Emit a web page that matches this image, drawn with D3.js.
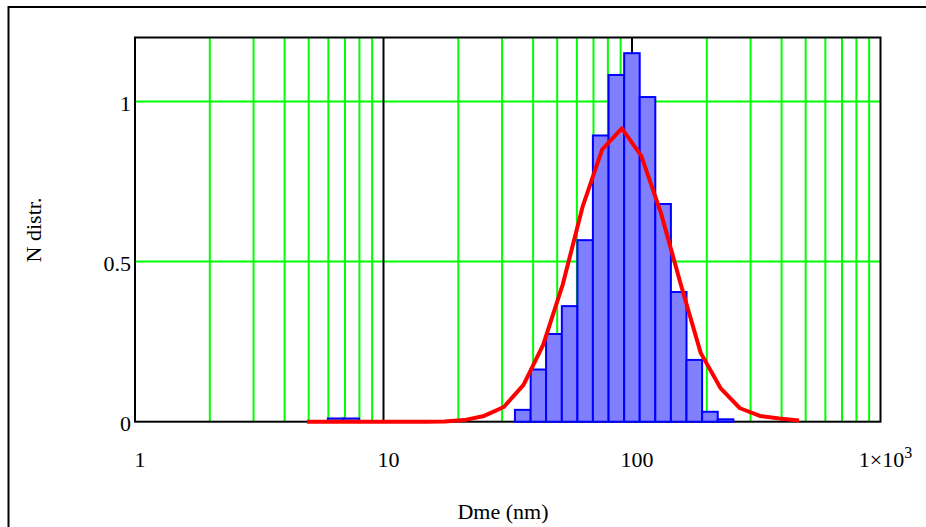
<!DOCTYPE html>
<html><head><meta charset="utf-8">
<script src="https://cdn.jsdelivr.net/npm/d3@7"></script>
<style>html,body{margin:0;padding:0;background:#fff;overflow:hidden}</style>
</head><body>
<svg id="c" width="926" height="527"></svg>
<script>
// Histogram bin edges (nm) and bar heights
const binEdges = [5.17,5.97,6.9,7.98,9.22,10.65,12.3,14.2,16.4,19.0,21.95,25.4,29.3,33.8,39.1,45.1,52.2,60.3,69.6,80.5,93.0,107.4,124.1,143.4,165.7,191.5,221.3,255.7,295.5,341.4,394.5,455.9];
const binHeights = [0,0.01,0.01,0,0,0,0,0,0,0,0,0,0,0.037,0.163,0.274,0.361,0.567,0.894,1.083,1.151,1.014,0.680,0.405,0.193,0.031,0.0075,0,0,0,0];
// Fitted curve
const fitX = [4.92,5.9,7.08,8.5,10.2,12.2,14.7,17.6,21.1,25.4,30.5,36.6,43.9,52.7,63.2,75.8,91.0,109,131,157,189,227,272,327,392,470];
const fitY = [0,0,0,0,0,0,0,0.001,0.005,0.018,0.046,0.115,0.24,0.43,0.67,0.85,0.916,0.83,0.65,0.43,0.215,0.105,0.042,0.018,0.010,0.004];
const yTicks = [0,0.5,1];
const xTicks = [1,10,100,1000];
const xGrid = [2,3,4,5,6,7,8,9,20,30,40,50,60,70,80,90,200,300,400,500,600,700,800,900];
const yGrid = [0.5,1];

const svg = d3.select("#c");
const font = "'Liberation Serif','Times New Roman',serif";
const x = d3.scaleLog().domain([1,1000]).range([135,880.5]);
const y = d3.scaleLinear().domain([0,1.2]).range([421.7,37.5]);

// outer frame
svg.append("rect").attr("x",8.5).attr("y",7).attr("width",1000).attr("height",1000)
  .attr("fill","none").attr("stroke","#000").attr("stroke-width",2);

// grid
const g = svg.append("g");
g.selectAll("line.vg").data(xGrid).join("line")
  .attr("x1",d=>x(d)).attr("x2",d=>x(d)).attr("y1",y(0)).attr("y2",y(1.2))
  .attr("stroke","#00ff00").attr("stroke-width",2);
g.selectAll("line.hg").data(yGrid).join("line")
  .attr("x1",x(1)).attr("x2",x(1000)).attr("y1",d=>y(d)).attr("y2",d=>y(d))
  .attr("stroke","#00ff00").attr("stroke-width",2);
g.selectAll("line.dg").data([10,100]).join("line")
  .attr("x1",d=>x(d)).attr("x2",d=>x(d)).attr("y1",y(0)).attr("y2",y(1.2))
  .attr("stroke","#000").attr("stroke-width",2);

// plot frame
svg.append("rect").attr("x",x(1)).attr("y",y(1.2)).attr("width",x(1000)-x(1)).attr("height",y(0)-y(1.2))
  .attr("fill","none").attr("stroke","#000").attr("stroke-width",2);

// bars
const bins = binHeights.map((h,i)=>({x0:binEdges[i],x1:binEdges[i+1],h}));
svg.append("g").selectAll("rect").data(bins).join("rect")
  .attr("x",d=>x(d.x0)).attr("width",d=>x(d.x1)-x(d.x0))
  .attr("y",d=>y(d.h)).attr("height",d=>Math.max(0,y(0)-y(d.h)))
  .attr("fill","#8080ff").attr("stroke","#0000ff").attr("stroke-width",2);

// fit line
const line = d3.line().x(d=>x(d[0])).y(d=>y(d[1]));
svg.append("path").datum(fitX.map((v,i)=>[v,fitY[i]])).attr("d",line)
  .attr("fill","none").attr("stroke","#ff0000").attr("stroke-width",4).attr("stroke-linejoin","round");

// y tick labels
svg.append("g").selectAll("text").data(yTicks).join("text")
  .attr("x",131).attr("y",d=>y(d)+9).attr("text-anchor","end")
  .attr("font-family",font).attr("font-size",22).text(d=>d===0.5?"0.5":String(d));

// x tick labels
const xt = svg.append("g").selectAll("text").data(xTicks).join("text")
  .attr("x",d=>x(d)+5).attr("y",467).attr("text-anchor","middle")
  .attr("font-family",font).attr("font-size",22);
xt.each(function(d){
  const t = d3.select(this);
  if(d===1000){ t.append("tspan").text("1\u00d710"); t.append("tspan").attr("dy",-9).attr("font-size",16).text("3"); }
  else t.text(String(d));
});

// titles
svg.append("text").attr("x",503).attr("y",519).attr("text-anchor","middle")
  .attr("font-family",font).attr("font-size",22).text("Dme (nm)");
svg.append("text").attr("transform","translate(41,230) rotate(-90)").attr("text-anchor","middle")
  .attr("font-family",font).attr("font-size",22).text("N distr.");
</script>
</body></html>
